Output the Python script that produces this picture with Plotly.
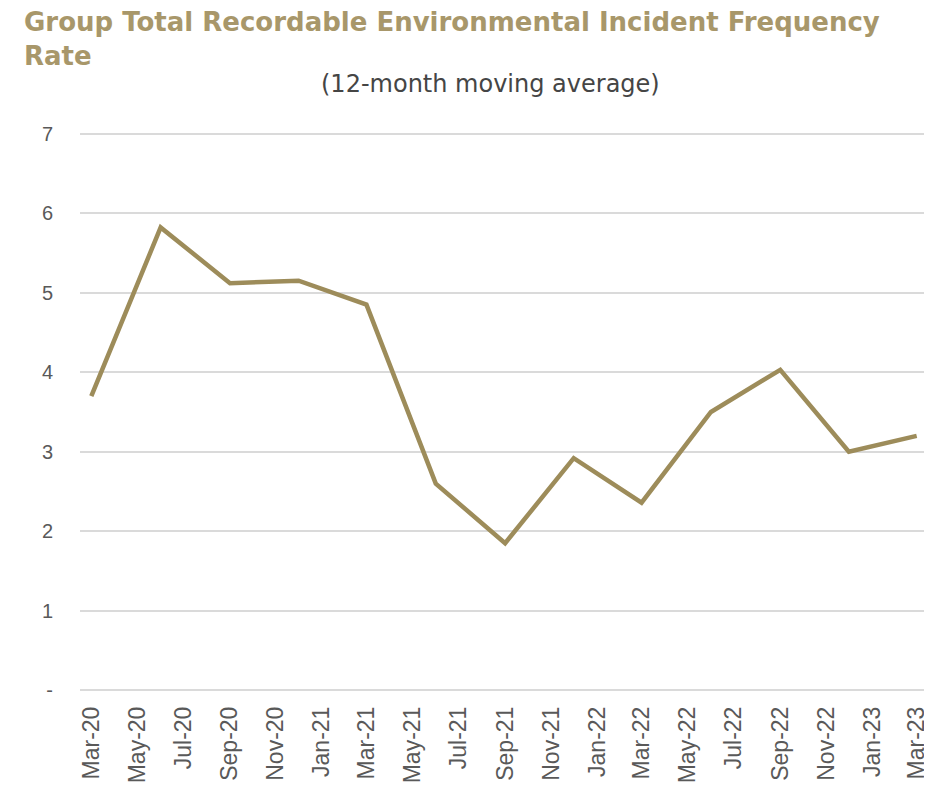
import plotly.graph_objects as go

# Quarterly data points (12-month moving average)
dates = ["2020-03-01", "2020-06-01", "2020-09-01", "2020-12-01", "2021-03-01",
         "2021-06-01", "2021-09-01", "2021-12-01", "2022-03-01", "2022-06-01",
         "2022-09-01", "2022-12-01", "2023-03-01"]
values = [3.70, 5.82, 5.12, 5.15, 4.85, 2.60, 1.85, 2.92, 2.36, 3.50, 4.03, 3.00, 3.20]

y_tickvals = [0, 1, 2, 3, 4, 5, 6, 7]
y_ticktext = ["-", "1", "2", "3", "4", "5", "6", "7"]

title_text = "Group Total Recordable Environmental Incident Frequency<br>Rate"
subtitle_text = "(12-month moving average)"

gold = "#A8976A"
line_col = "#9D8C5A"

W, H = 924, 778
ML, MR, MT, MB = 72, 4, 124, 94
PW, PH = W - ML - MR, H - MT - MB

fig = go.Figure()
fig.add_trace(go.Scatter(
    x=dates, y=values, mode="lines",
    line=dict(color=line_col, width=4.5),
    hoverinfo="x+y",
))

fig.update_layout(
    width=W, height=H,
    paper_bgcolor="white", plot_bgcolor="white",
    margin=dict(l=ML, r=MR, t=MT, b=MB),
    showlegend=False,
    annotations=[
        dict(
            text=title_text, xref="paper", yref="paper",
            x=(14 - ML) / PW, y=1 + (MT + 3) / PH,
            xanchor="left", yanchor="top", align="left", showarrow=False,
            font=dict(family="DejaVu Sans, sans-serif", size=26, color=gold, weight="bold"),
        ),
        dict(
            text=subtitle_text, xref="paper", yref="paper",
            x=(482 - ML) / PW, y=1 + (MT - 76) / PH,
            xanchor="center", yanchor="middle", showarrow=False,
            font=dict(family="DejaVu Sans, sans-serif", size=24, color="#454545"),
        ),
    ],
)

fig.update_xaxes(
    type="date",
    range=["2020-02-15", "2023-03-16"],
    tick0="2020-03-01", dtick="M2",
    tickformat="%b-%y",
    tickangle=-90,
    showgrid=False, zeroline=False, showline=False,
    ticks="", ticklabelstandoff=9,
    tickfont=dict(family="Liberation Sans, Arial, sans-serif", size=23, color="#595959"),
)

fig.update_yaxes(
    range=[-0.02, 7.02],
    tickmode="array", tickvals=y_tickvals, ticktext=y_ticktext,
    showgrid=True, gridcolor="#DADADA", gridwidth=1.5,
    zeroline=False, showline=False, ticks="",
    ticklabelstandoff=26,
    tickfont=dict(family="Liberation Sans, Arial, sans-serif", size=20, color="#595959"),
)

fig.write_html("out.html")
